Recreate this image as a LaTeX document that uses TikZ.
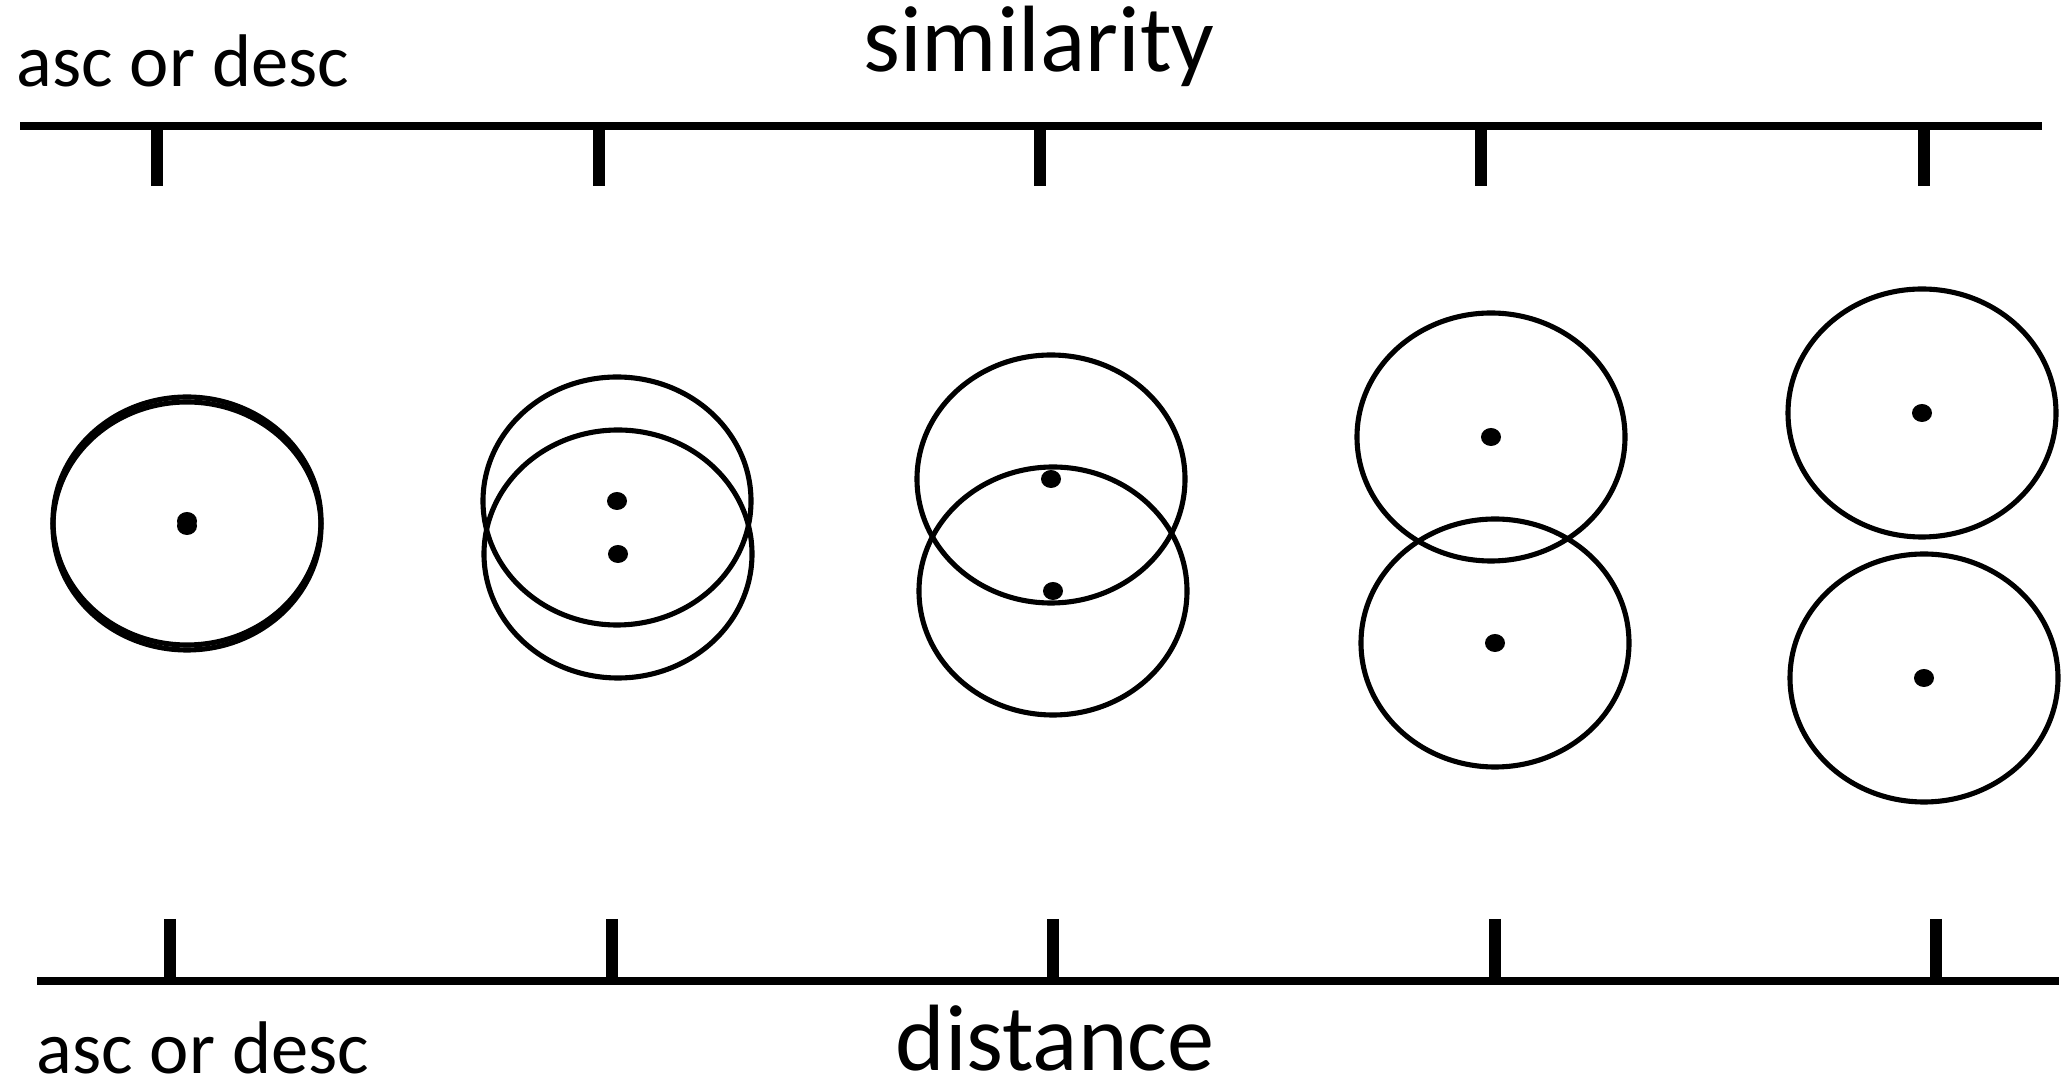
\documentclass[tikz,border=0pt]{standalone}
\usepackage{fontspec}
\setmainfont{Carlito}
\begin{document}
\begin{tikzpicture}[x=0.01cm,y=-0.01cm,
  axis/.style={line width=2.3pt},
  tickmark/.style={line width=3.4pt},
  ring/.style={line width=1.45pt},
  dotmark/.style={fill=black},
  bigtxt/.style={font=\fontsize{26.8}{30}\selectfont, inner sep=0pt},
  smalltxt/.style={font=\fontsize{21.2}{25}\selectfont, inner sep=0pt}]
\useasboundingbox (0,0) rectangle (2063,1092);
% axes
\coordinate (tl) at (20,126); \coordinate (tr) at (2042,126);
\coordinate (bl) at (37,981); \coordinate (br) at (2059,981);
\draw[axis] (tl) -- (tr);
\draw[axis] (bl) -- (br);
\foreach \x in {157,599,1040,1481,1924} \draw[tickmark] (\x,126) -- (\x,186);
\foreach \x in {170,612,1053,1495,1936} \draw[tickmark] (\x,919) -- (\x,981);
% labels
\node[bigtxt, anchor=base] (sim) at (1039,72) {similarity};
\node[bigtxt, anchor=base] (dist) at (1055,1071) {distance};
\node[smalltxt, anchor=base west] (ad1) at (16,87) {asc or desc};
\node[smalltxt, anchor=base west] (ad2) at (36,1074) {asc or desc};
% pairs of circles
\foreach \ax/\ay/\bx/\by in {187/521/187/526, 617/501/618/554, 1051/479/1053/591, 1491/437/1495/643, 1922/413/1924/678}{
  \draw[ring] (\ax,\ay) ellipse [x radius=134, y radius=124];
  \draw[ring] (\bx,\by) ellipse [x radius=134, y radius=124];
  \fill[dotmark] (\ax,\ay) ellipse [x radius=10, y radius=9];
  \fill[dotmark] (\bx,\by) ellipse [x radius=10, y radius=9];
}
\end{tikzpicture}
\end{document}
